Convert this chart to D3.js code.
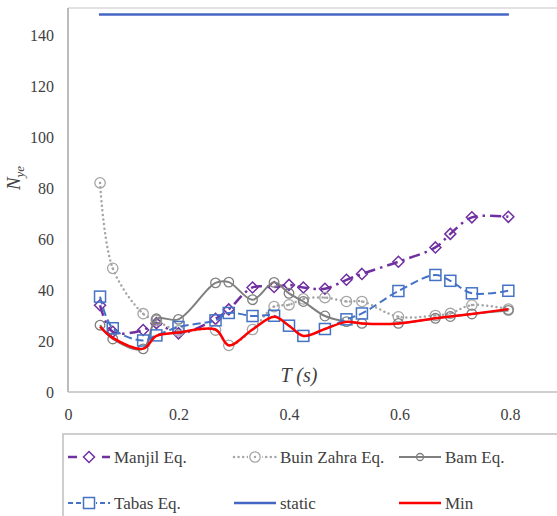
<!DOCTYPE html>
<html>
<head>
<meta charset="utf-8">
<script src="https://cdn.jsdelivr.net/npm/d3@7"></script>
<style>
  body { margin: 0; background: #fff; }
  svg, svg text { font-family: "Times New Roman", "Liberation Serif", "DejaVu Serif", serif; }
</style>
</head>
<body>
<div class="chart"></div>
<script>
// periods (s)
const periods = [0.058, 0.081, 0.136, 0.16, 0.2, 0.267, 0.291, 0.334, 0.373, 0.4,
                 0.426, 0.465, 0.504, 0.532, 0.598, 0.665, 0.692, 0.731, 0.797];
const manjil = [34, 23.6, 24.3, 27, 23, 28.7, 32.4, 41, 41.2, 42, 41, 40.5, 44, 46.3, 51.1, 56.7, 62, 68.5, 68.7];
const buinZahra = [82, 48.5, 30.7, 28, 24, 24.3, 18.3, 24.5, 33.5, 34.2, 36.5, 37, 35.5, 35.5, 29.5, 30, 30.8, 34.1, 32.5];
const bam = [26.2, 20.8, 16.9, 28.7, 28.5, 42.8, 43.1, 36.2, 43, 38.7, 35.5, 29.8, 27.6, 26.9, 26.9, 28.9, 29.6, 30.6, 32];
const tabas = [37.4, 25, 20.2, 22.2, 25.5, 28.1, 31, 29.8, 29.9, 26, 22, 24.7, 28.5, 30.8, 39.6, 45.9, 43.6, 38.7, 39.7];
const minVals = [25.6, 21.2, 17, 22, 23.3, 24.5, 18.3, 24.5, 29.5, 26, 22, 24.7, 27.5, 26.9, 26.9, 28.9, 29.6, 30.6, 32.5];
const staticT = [0.056, 0.798];
const staticVals = [148, 148];
const xTicks = [0, 0.2, 0.4, 0.6, 0.8];
const yTicks = [0, 20, 40, 60, 80, 100, 120, 140];

const W = 557, H = 516;
const FONT = '"Times New Roman", "Liberation Serif", "DejaVu Serif", serif';
const svg = d3.select('.chart').append('svg').attr('width', W).attr('height', H);
svg.append('rect').attr('width', W).attr('height', H).attr('fill', '#fff');

const x = d3.scaleLinear().domain([0, 0.8]).range([68, 510]);
const y = d3.scaleLinear().domain([0, 140]).range([392, 35]);

// plot frame
svg.append('line').attr('x1', 68).attr('x2', W).attr('y1', 8).attr('y2', 8)
   .attr('stroke', '#d9d9d9').attr('stroke-width', 1.5);
svg.append('line').attr('x1', 68).attr('x2', 68).attr('y1', 8).attr('y2', 392)
   .attr('stroke', '#a6a6a6').attr('stroke-width', 1.5);
svg.append('line').attr('x1', 68).attr('x2', W).attr('y1', 392).attr('y2', 392)
   .attr('stroke', '#bfbfbf').attr('stroke-width', 1.5);

// axes labels (no tick marks)
const yAxis = svg.append('g').attr('transform', 'translate(68,0)')
  .call(d3.axisLeft(y).tickValues(yTicks).tickSize(0).tickPadding(14));
yAxis.attr('font-family', FONT);
yAxis.select('.domain').remove();
yAxis.selectAll('text').attr('font-size', 16).attr('fill', '#404040');

const xAxis = svg.append('g').attr('transform', 'translate(0,392)')
  .call(d3.axisBottom(x).tickValues(xTicks).tickFormat(d => d === 0 ? '0' : d3.format('.1f')(d)).tickSize(0).tickPadding(17));
xAxis.attr('font-family', FONT);
xAxis.select('.domain').remove();
xAxis.selectAll('text').attr('font-size', 16).attr('fill', '#404040');

// axis titles
const yt = svg.append('text').attr('transform', 'translate(20,178) rotate(-90)')
  .attr('text-anchor', 'middle').attr('font-style', 'italic').attr('font-size', 19).attr('fill', '#404040');
yt.append('tspan').text('N');
yt.append('tspan').text('ye').attr('font-size', 13).attr('dy', 4);

svg.append('text').attr('x', 299).attr('y', 382).attr('text-anchor', 'middle')
  .attr('font-style', 'italic').attr('font-size', 20).attr('fill', '#404040').text('T (s)');

const series = [
  { name: 'Manjil Eq.', vals: manjil, color: '#7030a0', width: 2.5, dash: '11,5,2.5,5', cap: 'butt', marker: 'diamond' },
  { name: 'Buin Zahra Eq.', vals: buinZahra, color: '#a5a5a5', width: 2.5, dash: '0,4.6', cap: 'round', marker: 'dotcircle' },
  { name: 'Bam Eq.', vals: bam, color: '#7f7f7f', width: 2, dash: null, cap: 'butt', marker: 'circle' },
  { name: 'Tabas Eq.', vals: tabas, color: '#4472c4', width: 2, dash: '8,4', cap: 'butt', marker: 'square' }
];

const line = d3.line().x((d, i) => x(periods[i])).y(d => y(d)).curve(d3.curveCatmullRom);

function drawMarker(g, type, cx, cy, color) {
  if (type === 'diamond') {
    g.append('path').attr('d', `M${cx},${cy - 5.5}L${cx + 5.5},${cy}L${cx},${cy + 5.5}L${cx - 5.5},${cy}Z`)
     .attr('fill', 'none').attr('stroke', color).attr('stroke-width', 1.5);
  } else if (type === 'square') {
    g.append('rect').attr('x', cx - 5.5).attr('y', cy - 5.5).attr('width', 11).attr('height', 11)
     .attr('fill', 'none').attr('stroke', color).attr('stroke-width', 1.5);
  } else if (type === 'circle') {
    g.append('circle').attr('cx', cx).attr('cy', cy).attr('r', 4.8)
     .attr('fill', 'none').attr('stroke', color).attr('stroke-width', 1.3);
  } else if (type === 'dotcircle') {
    g.append('circle').attr('cx', cx).attr('cy', cy).attr('r', 5.2)
     .attr('fill', 'none').attr('stroke', color).attr('stroke-width', 1.3);
    g.append('circle').attr('cx', cx).attr('cy', cy).attr('r', 1.2).attr('fill', color);
  }
}

series.forEach(s => {
  const g = svg.append('g');
  g.append('path').datum(s.vals).attr('d', line)
   .attr('fill', 'none').attr('stroke', s.color).attr('stroke-width', s.width)
   .attr('stroke-dasharray', s.dash).attr('stroke-linecap', s.cap);
  s.vals.forEach((v, i) => drawMarker(g, s.marker, x(periods[i]), y(v), s.color));
});

// static line
svg.append('path').datum(staticVals)
  .attr('d', d3.line().x((d, i) => x(staticT[i])).y(d => y(d)))
  .attr('fill', 'none').attr('stroke', '#4466c4').attr('stroke-width', 2.5);

// min envelope
svg.append('path').datum(minVals).attr('d', line)
  .attr('fill', 'none').attr('stroke', '#ff0000').attr('stroke-width', 2.5);

// legend
const legend = svg.append('g');
legend.append('rect').attr('x', 63).attr('y', 434).attr('width', 600).attr('height', 120)
  .attr('fill', '#fff').attr('stroke', '#bfbfbf').attr('stroke-width', 1.5);

const legendItems = [
  { name: 'Manjil Eq.', color: '#7030a0', width: 2.5, dash: '9,8', marker: 'diamond', cap: 'butt', lx: 68, ty: 457 },
  { name: 'Buin Zahra Eq.', color: '#a5a5a5', width: 2.5, dash: '0,4.6', marker: 'dotcircle', cap: 'round', lx: 234, ty: 457 },
  { name: 'Bam Eq.', color: '#7f7f7f', width: 2, dash: null, marker: 'circle', cap: 'butt', lx: 399, ty: 457 },
  { name: 'Tabas Eq.', color: '#4472c4', width: 2, dash: '5,3', marker: 'square', cap: 'butt', lx: 68, ty: 503 },
  { name: 'static', color: '#4466c4', width: 2.5, dash: null, marker: null, cap: 'butt', lx: 234, ty: 503 },
  { name: 'Min', color: '#ff0000', width: 2.5, dash: null, marker: null, cap: 'butt', lx: 399, ty: 503 }
];

legendItems.forEach(d => {
  legend.append('line').attr('x1', d.lx).attr('x2', d.lx + 42).attr('y1', d.ty).attr('y2', d.ty)
    .attr('stroke', d.color).attr('stroke-width', d.width)
    .attr('stroke-dasharray', d.dash).attr('stroke-linecap', d.cap);
  if (d.marker) {
    if (d.marker === 'circle') {
      legend.append('circle').attr('cx', d.lx + 21).attr('cy', d.ty).attr('r', 3.5)
        .attr('fill', 'none').attr('stroke', d.color).attr('stroke-width', 1.3);
    } else {
      legend.append('rect').attr('x', d.lx + 14).attr('y', d.ty - 7).attr('width', 14).attr('height', 14).attr('fill', '#fff');
      drawMarker(legend, d.marker, d.lx + 21, d.ty, d.color);
    }
  }
  legend.append('text').attr('x', d.lx + 46).attr('y', d.ty).attr('dy', '0.35em')
    .attr('font-size', 17).attr('fill', '#404040').text(d.name);
});
</script>
</body>
</html>
